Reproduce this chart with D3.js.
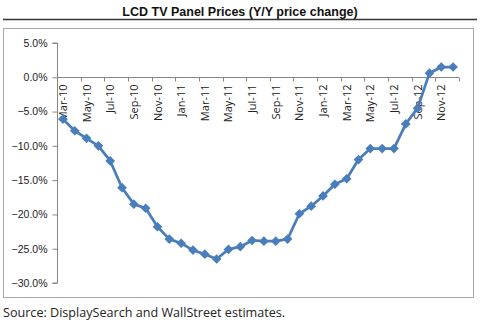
<!DOCTYPE html>
<html>
<head>
<meta charset="utf-8">
<script src="https://cdn.jsdelivr.net/npm/d3@7"></script>
<style>
  body { margin: 0; background: #fff; }
  svg text { font-family: "Liberation Sans", Arial, sans-serif; }
</style>
</head>
<body>
<svg id="chart" width="480" height="322"></svg>
<script>
var months = [
    "Mar-10", "Apr-10", "May-10", "Jun-10", "Jul-10", "Aug-10", "Sep-10", "Oct-10", "Nov-10", "Dec-10",
    "Jan-11", "Feb-11", "Mar-11", "Apr-11", "May-11", "Jun-11", "Jul-11", "Aug-11", "Sep-11", "Oct-11", "Nov-11", "Dec-11",
    "Jan-12", "Feb-12", "Mar-12", "Apr-12", "May-12", "Jun-12", "Jul-12", "Aug-12", "Sep-12", "Oct-12", "Nov-12", "Dec-12"
];
var yoy_change = [
    -6.1, -7.8, -8.9, -10.0, -12.2, -16.1, -18.5, -19.1, -21.8, -23.6,
    -24.2, -25.2, -25.8, -26.5, -25.1, -24.7, -23.8, -23.9, -23.9, -23.6, -19.9, -18.8,
    -17.3, -15.6, -14.8, -12.0, -10.4, -10.4, -10.4, -6.8, -4.5, 0.6, 1.5, 1.5
];
var y_ticks = [5, 0, -5, -10, -15, -20, -25, -30];

var chart_title = "LCD TV Panel Prices (Y/Y price change)";
var source_note = "Source:  DisplaySearch and WallStreet estimates.";

var svg = d3.select("#chart");

// title and the rule below it
svg.append("text")
    .attr("x", 240).attr("y", 16)
    .attr("text-anchor", "middle")
    .style("font-size", "12.5px").style("font-weight", "bold")
    .attr("fill", "#111")
    .text(chart_title);
svg.append("line")
    .attr("x1", 3).attr("x2", 477).attr("y1", 19.5).attr("y2", 19.5)
    .attr("stroke", "#333").attr("stroke-width", 1.5);

// chart frame
svg.append("rect")
    .attr("x", 3.5).attr("y", 28.5).attr("width", 470).attr("height", 269)
    .attr("fill", "#fff").attr("stroke", "#a6a6a6");

var x = d3.scaleBand().domain(months).range([57, 459]).padding(0);
var y = d3.scaleLinear().domain([-30, 5]).range([283, 43]);

// y axis
var y_axis = d3.axisLeft(y)
    .tickValues(y_ticks)
    .tickSize(5)
    .tickPadding(5)
    .tickFormat(function(d) { return d3.format(".1f")(d) + "%"; });
var gy = svg.append("g").attr("transform", "translate(57.5,0)").call(y_axis);
gy.select(".domain").attr("stroke", "#868686").attr("d", "M-5," + y(5) + "H0V" + y(-30) + "H-5");
gy.selectAll(".tick line").attr("stroke", "#868686");
gy.selectAll(".tick text").style("font-size", "10.5px").attr("fill", "#222");

// x axis along the zero line
var zero = Math.round(y(0)) + 0.5;
svg.append("line")
    .attr("x1", x.range()[0]).attr("x2", x.range()[1])
    .attr("y1", zero).attr("y2", zero)
    .attr("stroke", "#868686");
var tick_months = months.filter(function(d, i) { return i % 2 === 0; });
svg.selectAll(".xtick")
    .data(tick_months.map(function(m) { return x(m); }).concat([x.range()[1]]))
    .enter().append("line")
    .attr("class", "xtick")
    .attr("x1", function(d) { return Math.round(d) + 0.5; })
    .attr("x2", function(d) { return Math.round(d) + 0.5; })
    .attr("y1", zero).attr("y2", zero + 4)
    .attr("stroke", "#868686");
svg.selectAll(".xlabel")
    .data(tick_months)
    .enter().append("text")
    .attr("class", "xlabel")
    .attr("transform", function(m) {
        return "translate(" + (x(m) + x.bandwidth() / 2 + 4) + "," + (zero + 7) + ") rotate(-90)";
    })
    .attr("text-anchor", "end")
    .style("font-family", "'Open Sans', sans-serif")
    .style("font-size", "11px")
    .attr("fill", "#222")
    .text(function(m) { return m; });

// series
var points = months.map(function(m, i) { return { month: m, value: yoy_change[i] }; });
var line = d3.line()
    .x(function(d) { return x(d.month) + x.bandwidth() / 2; })
    .y(function(d) { return y(d.value); });
svg.append("path")
    .datum(points)
    .attr("d", line)
    .attr("fill", "none")
    .attr("stroke", "#4a7ebb")
    .attr("stroke-width", 2.75)
    .attr("stroke-linejoin", "round");
svg.selectAll(".marker")
    .data(points)
    .enter().append("path")
    .attr("class", "marker")
    .attr("d", d3.symbol().type(d3.symbolDiamond2).size(60))
    .attr("transform", function(d) {
        return "translate(" + (x(d.month) + x.bandwidth() / 2) + "," + y(d.value) + ")";
    })
    .attr("fill", "#4a7ebb");

// source note
svg.append("text")
    .attr("x", 3).attr("y", 317)
    .style("font-family", "'Open Sans', sans-serif")
    .style("font-size", "12.6px")
    .attr("fill", "#222")
    .text(source_note);
</script>
</body>
</html>
